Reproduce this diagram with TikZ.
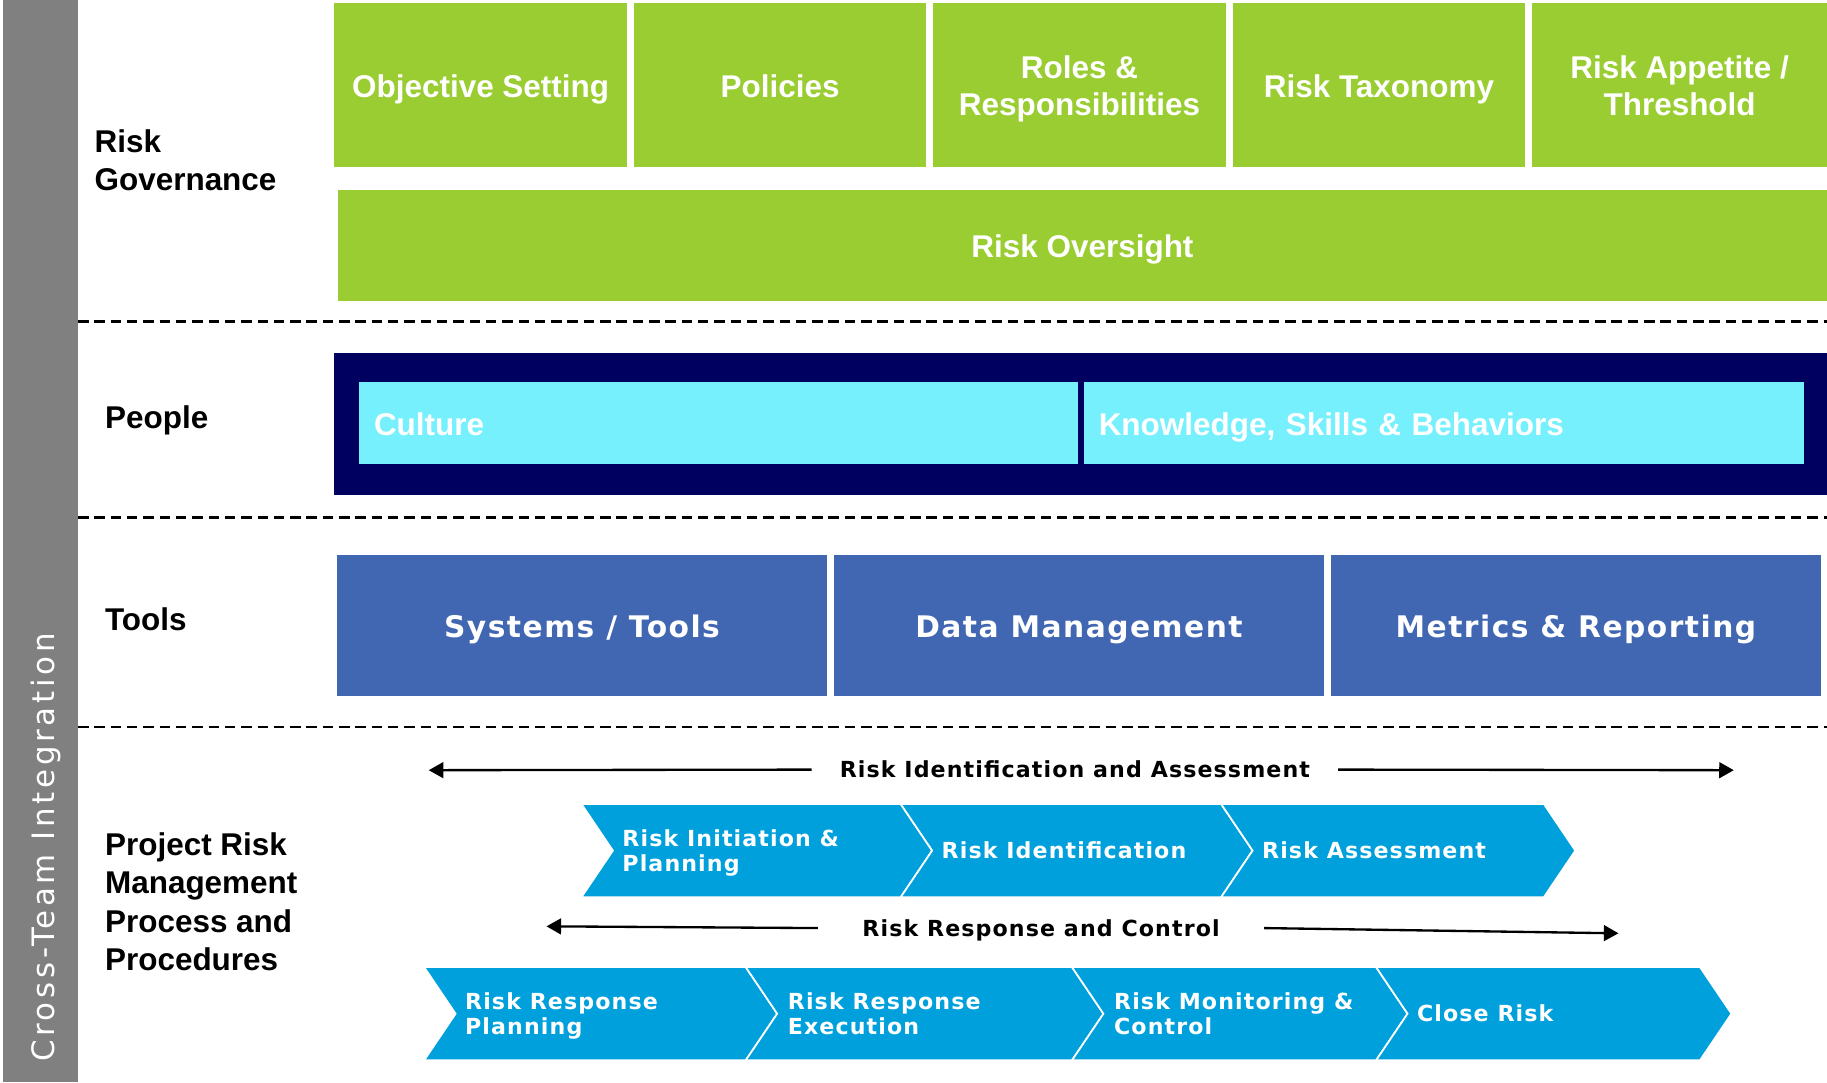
\documentclass[tikz,border=0pt]{standalone}
\usepackage{fontspec}
\setmainfont{Liberation Sans}
\newfontfamily\procfont{DejaVu Sans}[LetterSpace=5]
\newfontfamily\barfont{DejaVu Sans}[LetterSpace=12]
\usetikzlibrary{arrows.meta}

\definecolor{bargray}{RGB}{128,128,128}
\definecolor{govgreen}{RGB}{154,205,50}
\definecolor{peoplenavy}{RGB}{0,0,96}
\definecolor{peoplecyan}{RGB}{118,240,253}
\definecolor{toolblue}{RGB}{66,103,178}
\definecolor{chevblue}{RGB}{0,160,220}

% struts so that every box centres its capitals the same way
\newcommand{\bigstrut}{\rule[-6pt]{0pt}{33pt}}
\newcommand{\toolstrut}{\rule[-6.5pt]{0pt}{34.5pt}}
\newcommand{\stepstrut}{\rule[-5pt]{0pt}{23.85pt}}

% one process step: left x, right x, middle y
\newcommand{\chevbox}[3]{%
  \filldraw[chev] (#1,#3-40) -- (#2,#3-40) -- (#2+27,#3) -- (#2,#3+40)
    -- (#1,#3+40) -- (#1+27,#3) -- cycle;}

\begin{document}
\begin{tikzpicture}[x=1pt,y=-1pt,
	>={Triangle[length=12.5pt,width=13.5pt]},
	every node/.style={inner sep=0pt},
	big/.style={execute at begin node=\bigstrut,execute at end node=\bigstrut},
	rowlabel/.style={big,anchor=west,align=left,font=\bfseries\fontsize{27}{33}\selectfont},
	govbox/.style={big,fill=govgreen,text=white,align=center,minimum width=251,minimum height=140,
		font=\bfseries\fontsize{27}{32}\selectfont},
	cyanbox/.style={big,fill=peoplecyan,text=white,align=left,text width=591,inner xsep=13,
		minimum height=70,font=\bfseries\fontsize{27}{32}\selectfont},
	toolbox/.style={fill=toolblue,text=white,minimum width=421,minimum height=121,
		font=\procfont\bfseries\fontsize{25.5}{30}\selectfont,
		execute at begin node=\toolstrut,execute at end node=\toolstrut},
	chev/.style={fill=chevblue,draw=white,line width=1.5pt},
	small/.style={execute at begin node=\stepstrut,execute at end node=\stepstrut},
	chevtext/.style={small,anchor=west,align=left,text=white,font=\procfont\bfseries\fontsize{19}{21.5}\selectfont},
	flowlabel/.style={small,font=\procfont\bfseries\fontsize{19}{22}\selectfont},
	flowarrow/.style={->,line width=2pt},
	sep/.style={dash pattern=on 9pt off 5pt,line width=2pt}]

	\fill[white] (0,0) rectangle (1568,929);
	\useasboundingbox (0,0) rectangle (1568,929);

	% side bar
	\fill[bargray] (3,0) rectangle (67,929);
	\node[rotate=90,text=white,font=\barfont\fontsize{26.5}{30}\selectfont] (bar) at (39.5,727.5)
		{Cross-Team Integration};

	% section separators
	\draw[sep] (67,276) -- (1568,276)
		(67,444) -- (1568,444)
		(67,624) -- (1568,624);

	% row labels
	\path
		(81,136.7) node[rowlabel] (gov) {\bigstrut Risk\\Governance}
		(90,357.2) node[rowlabel] (people) {People}
		(90,530.2) node[rowlabel] (tools) {Tools}
		(90,773.2) node[rowlabel] (process) {\bigstrut Project Risk\\Management\\Process and\\Procedures};

	% governance
	\path
		(412.5,73)  node[govbox] (objective) {Objective Setting}
		(669.5,73)  node[govbox] (policies)  {Policies}
		(926.5,73)  node[govbox] (roles)     {\bigstrut Roles \&\\Responsibilities}
		(1183.5,73) node[govbox] (taxonomy)  {Risk Taxonomy}
		(1441.5,73) node[govbox,minimum width=253] (appetite) {\bigstrut Risk Appetite /\\Threshold}
		(929,210.5) node[govbox,minimum width=1278,minimum height=95] (oversight) {Risk Oversight};

	% people
	\node[fill=peoplenavy,minimum width=1281,minimum height=122] (crew) at (927.5,364) {};
	\path
		(616.5,363) node[cyanbox] (culture) {Culture}
		(1239,363)  node[cyanbox,text width=592] (skills) {Knowledge, Skills \& Behaviors};

	% tools
	\path
		(499.5,536.5) node[toolbox] (systems) {Systems / Tools}
		(926,536.5)   node[toolbox,minimum width=420] (data) {Data Management}
		(1352.5,536.5) node[toolbox] (metrics) {Metrics \& Reporting};

	% identification and assessment
	\coordinate (idL) at (368,661);
	\coordinate (idR) at (1488,661);
	\node[flowlabel,inner xsep=24] (idlabel) at (922.5,660.5) {Risk Identification and Assessment};
	\draw[flowarrow] (idlabel.west) -- (idL);
	\draw[flowarrow] (idlabel.east) -- (idR);

	\chevbox{499}{773}{730}
	\chevbox{773}{1048}{730}
	\chevbox{1048}{1325}{730}
	\path
		(534,730)  node[chevtext] (initiation) {\stepstrut Risk Initiation \&\\Planning}
		(808,730)  node[chevtext] (identify)   {Risk Identification}
		(1083,730) node[chevtext] (assess)     {Risk Assessment};

	% response and control
	\coordinate (rcL) at (469,795);
	\coordinate (rcR) at (1389,801);
	\node[flowlabel,inner xsep=38] (rclabel) at (893.5,796.5) {Risk Response and Control};
	\draw[flowarrow] (rclabel.west) -- (rcL);
	\draw[flowarrow] (rclabel.east) -- (rcR);

	\chevbox{364}{640}{870}
	\chevbox{640}{920}{870}
	\chevbox{920}{1181}{870}
	\chevbox{1181}{1459}{870}
	\path
		(399,870)  node[chevtext] (planning)  {\stepstrut Risk Response\\Planning}
		(676,870)  node[chevtext] (execution) {\stepstrut Risk Response\\Execution}
		(956,870)  node[chevtext] (monitor)   {\stepstrut Risk Monitoring \&\\Control}
		(1216,870) node[chevtext] (close)     {Close Risk};

\end{tikzpicture}
\end{document}
